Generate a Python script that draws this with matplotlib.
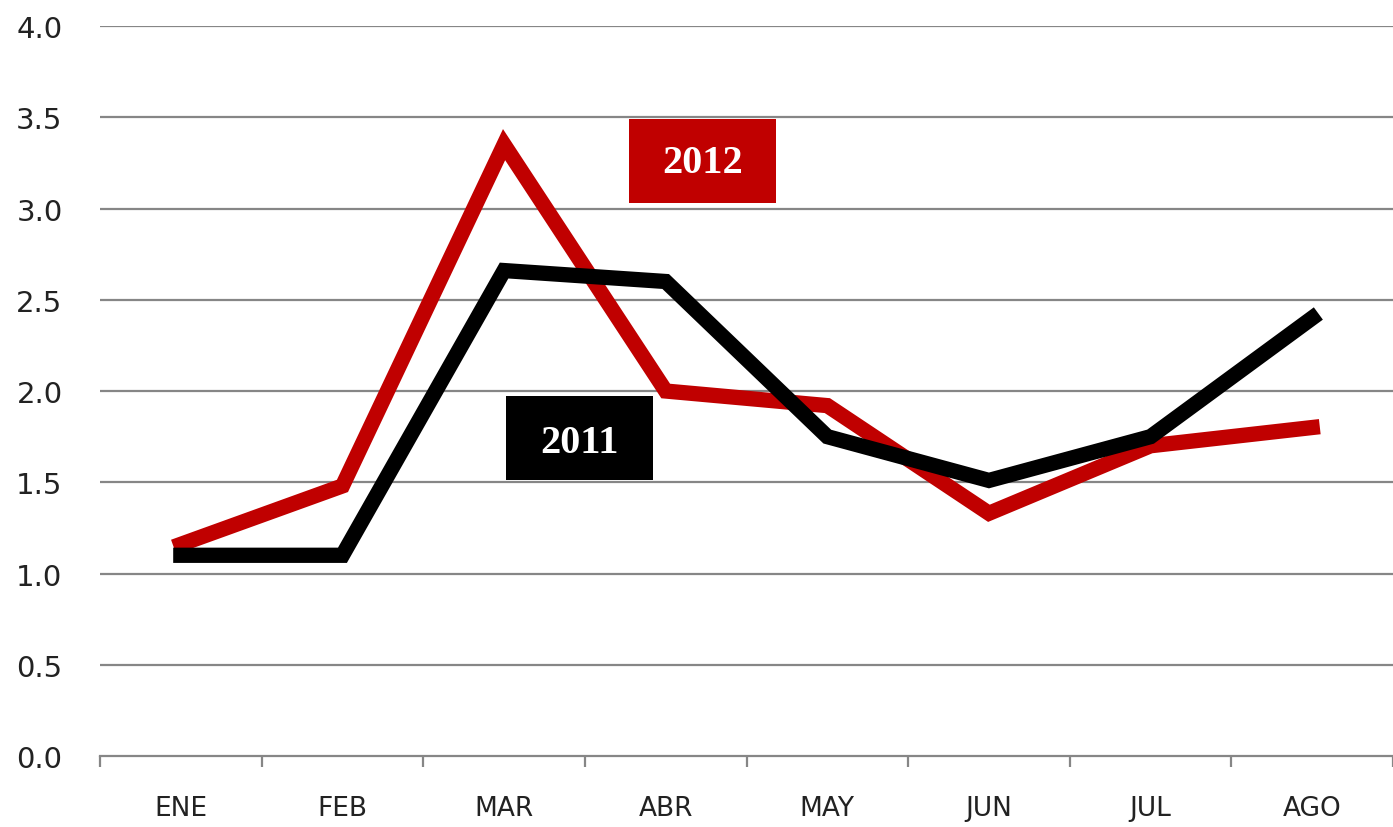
import matplotlib
matplotlib.use("Agg")
import matplotlib.pyplot as plt
from matplotlib.patches import Rectangle

months = ["ENE", "FEB", "MAR", "ABR", "MAY", "JUN", "JUL", "AGO"]
vals_2012 = [1.16, 1.48, 3.35, 2.00, 1.92, 1.33, 1.70, 1.80]
vals_2011 = [1.10, 1.10, 2.66, 2.60, 1.75, 1.51, 1.75, 2.40]
yticks = [0.0, 0.5, 1.0, 1.5, 2.0, 2.5, 3.0, 3.5, 4.0]

RED = "#c00000"
fig = plt.figure(figsize=(13.93, 8.28), dpi=100)
ax = fig.add_axes([0.0718, 0.0857, 0.9282, 0.8817])
x = list(range(len(months)))

ax.set_xlim(-0.5, len(months) - 0.5)
ax.set_ylim(0, 4.0)
for v in yticks[1:]:
    ax.axhline(v, color="#868686", lw=1.6, zorder=1)

ax.plot(x, vals_2012, color=RED, lw=11, solid_joinstyle="miter", zorder=3)
ax.plot(x, vals_2011, color="black", lw=11, solid_joinstyle="miter", zorder=4)

# label boxes
ax.add_patch(Rectangle((2.776, 3.03), 0.907, 0.46, facecolor=RED, edgecolor="none", zorder=5))
ax.text(2.776 + 0.907 / 2, 3.25, "2012", color="white", ha="center", va="center",
        fontsize=29, fontweight="bold", family="Liberation Serif", zorder=6)
ax.add_patch(Rectangle((2.01, 1.51), 0.91, 0.46, facecolor="black", edgecolor="none", zorder=5))
ax.text(2.01 + 0.91 / 2, 1.72, "2011", color="white", ha="center", va="center",
        fontsize=29, fontweight="bold", family="Liberation Serif", zorder=6)

for s in ["top", "right", "left"]:
    ax.spines[s].set_visible(False)
ax.spines["bottom"].set_color("#868686")
ax.spines["bottom"].set_linewidth(1.6)

ax.set_yticks(yticks)
ax.set_yticklabels([f"{v:.1f}" for v in yticks], fontsize=21, color="#222222")
ax.tick_params(axis="y", length=0, pad=27)

ax.set_xticks(x)
ax.set_xticklabels(months, fontsize=19, color="#222222")
ax.set_xticks([i - 0.5 for i in range(len(months) + 1)], minor=True)
ax.tick_params(axis="x", which="major", length=0, pad=28)
ax.tick_params(axis="x", which="minor", length=8, width=1.6, color="#868686", direction="out")

fig.savefig("out.png", dpi=100)
